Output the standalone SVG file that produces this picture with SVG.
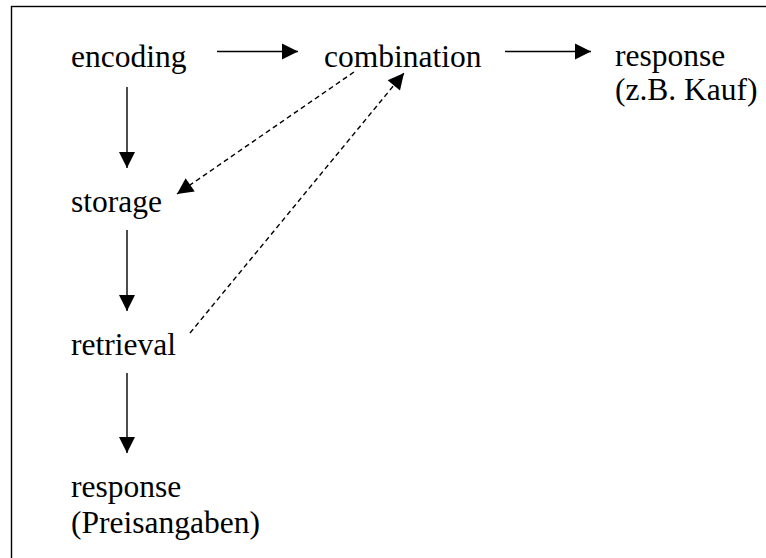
<svg xmlns="http://www.w3.org/2000/svg" width="766" height="558" viewBox="0 0 766 558">
<style>
.t{font-family:"Liberation Serif","Times New Roman","DejaVu Serif",serif;font-size:31.5px;fill:#000}
.c{stroke:#000;stroke-width:1.4;fill:none}
.d{stroke-dasharray:5,3.5}
</style>
<defs>
<marker id="ah" markerUnits="userSpaceOnUse" markerWidth="17" markerHeight="18" refX="16" refY="8" orient="auto" overflow="visible">
<path d="M0,0 L16,8 L0,16 Z" fill="#000"/>
</marker>
</defs>
<rect x="11.5" y="6.5" width="800" height="600" fill="#fff" stroke="#000" stroke-width="1.4"/>
<g id="connectors">
<line class="c" x1="217" y1="51.5" x2="298" y2="51.5" marker-end="url(#ah)"/>
<line class="c" x1="505" y1="51.5" x2="591" y2="51.5" marker-end="url(#ah)"/>
<line class="c" x1="127" y1="87" x2="127" y2="168" marker-end="url(#ah)"/>
<line class="c" x1="127" y1="230" x2="127" y2="311" marker-end="url(#ah)"/>
<line class="c" x1="127" y1="373" x2="127" y2="453" marker-end="url(#ah)"/>
<line class="c d" x1="354" y1="72" x2="177" y2="194" marker-end="url(#ah)"/>
<line class="c d" x1="190" y1="333" x2="404" y2="73" marker-end="url(#ah)"/>
</g>
<g id="encoding"><text class="t" x="71" y="67">encoding</text></g>
<g id="combination"><text class="t" x="324" y="67">combination</text></g>
<g id="response-kauf"><text class="t" x="615" y="66">response</text><text class="t" x="615" y="100">(z.B. Kauf)</text></g>
<g id="storage"><text class="t" x="71" y="212">storage</text></g>
<g id="retrieval"><text class="t" x="71" y="355">retrieval</text></g>
<g id="response-preis"><text class="t" x="71" y="497">response</text><text class="t" x="71" y="533">(Preisangaben)</text></g>
</svg>
